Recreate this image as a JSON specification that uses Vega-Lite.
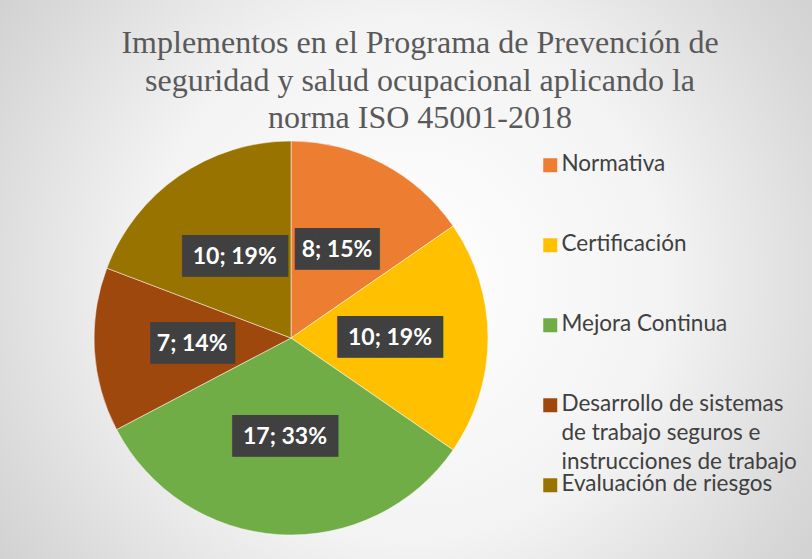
{
  "$schema": "https://vega.github.io/schema/vega-lite/v6.json",
  "width": 812,
  "height": 559,
  "autosize": {"type": "none"},
  "padding": 0,
  "background": "#ffffff",
  "title": {
    "text": ["Implementos en el Programa de Prevención de", "seguridad y salud ocupacional aplicando la", "norma ISO 45001-2018"],
    "font": "Liberation Serif",
    "fontSize": 32,
    "fontWeight": "normal",
    "color": "#595959",
    "lineHeight": 37.5,
    "anchor": "middle",
    "dx": 14,
    "offset": -135
  },
  "config": {
    "view": {"stroke": null},
    "style": {"guide-label": {"dy": -12, "lineHeight": 29}}
  },
  "layer": [
    {
      "data": {"values": [{"fondo": 1}]},
      "mark": {
        "type": "rect",
        "fill": {
          "gradient": "radial",
          "x1": 0.5, "y1": 0.5, "r1": 0,
          "x2": 0.5, "y2": 0.5, "r2": 0.72,
          "stops": [
            {"offset": 0, "color": "#ffffff"},
            {"offset": 0.45, "color": "#f3f3f3"},
            {"offset": 0.75, "color": "#d9d9d9"},
            {"offset": 1, "color": "#c6c6c6"}
          ]
        }
      },
      "encoding": {}
    },
    {
      "data": {"name": "tabla", "values": [
        {"orden": 1, "categoria": "Normativa", "valor": 8, "etiqueta": "8; 15%"},
        {"orden": 2, "categoria": "Certificación", "valor": 10, "etiqueta": "10; 19%"},
        {"orden": 3, "categoria": "Mejora Continua", "valor": 17, "etiqueta": "17; 33%"},
        {"orden": 4, "categoria": "Desarrollo de sistemas de trabajo seguros e instrucciones de trabajo", "valor": 7, "etiqueta": "7; 14%"},
        {"orden": 5, "categoria": "Evaluación de riesgos", "valor": 10, "etiqueta": "10; 19%"}
      ]},
      "encoding": {
        "theta": {"field": "valor", "type": "quantitative", "stack": true},
        "order": {"field": "orden", "type": "quantitative"}
      },
      "layer": [
        {
          "mark": {"type": "arc", "outerRadius": 197, "xOffset": -115, "yOffset": 58.5, "stroke": "#ffffff", "strokeWidth": 0.5},
          "encoding": {
            "color": {
              "field": "categoria",
              "type": "nominal",
              "scale": {
                "domain": ["Normativa", "Certificación", "Mejora Continua", "Desarrollo de sistemas de trabajo seguros e instrucciones de trabajo", "Evaluación de riesgos"],
                "range": ["#ED7D31", "#FFC000", "#70AD47", "#9E480E", "#997300"]
              },
              "legend": {
                "title": null,
                "orient": "none",
                "legendX": 539,
                "legendY": 154,
                "padding": 0,
                "symbolType": "square",
                "symbolSize": 196,
                "symbolStrokeWidth": 0,
                "labelFont": "Lato",
                "labelFontSize": 22.5,
                "labelColor": "#404040",
                "labelLimit": 300,
                "labelOffset": 0,
                "labelBaseline": "top",
                "rowPadding": -5.5,
                "gridAlign": "all",
                "labelExpr": "datum.label == 'Desarrollo de sistemas de trabajo seguros e instrucciones de trabajo' ? ['Desarrollo de sistemas', 'de trabajo seguros e', 'instrucciones de trabajo'] : datum.label"
              }
            }
          }
        },
        {
          "mark": {"type": "text", "radius": 99, "xOffset": -115, "yOffset": 58.5, "font": "DejaVu Sans Mono", "fontSize": 35, "color": "#404040", "baseline": "middle", "align": "center"},
          "encoding": {
            "text": {"condition": {"test": "datum.valor >= 10", "value": "█████"}, "value": "████"}
          }
        },
        {
          "mark": {"type": "text", "radius": 99, "xOffset": -115, "yOffset": 58.5, "font": "Lato", "fontSize": 23, "fontWeight": "bold", "color": "#ffffff", "baseline": "middle", "align": "center"},
          "encoding": {
            "text": {"field": "etiqueta", "type": "nominal"}
          }
        }
      ]
    }
  ]
}
